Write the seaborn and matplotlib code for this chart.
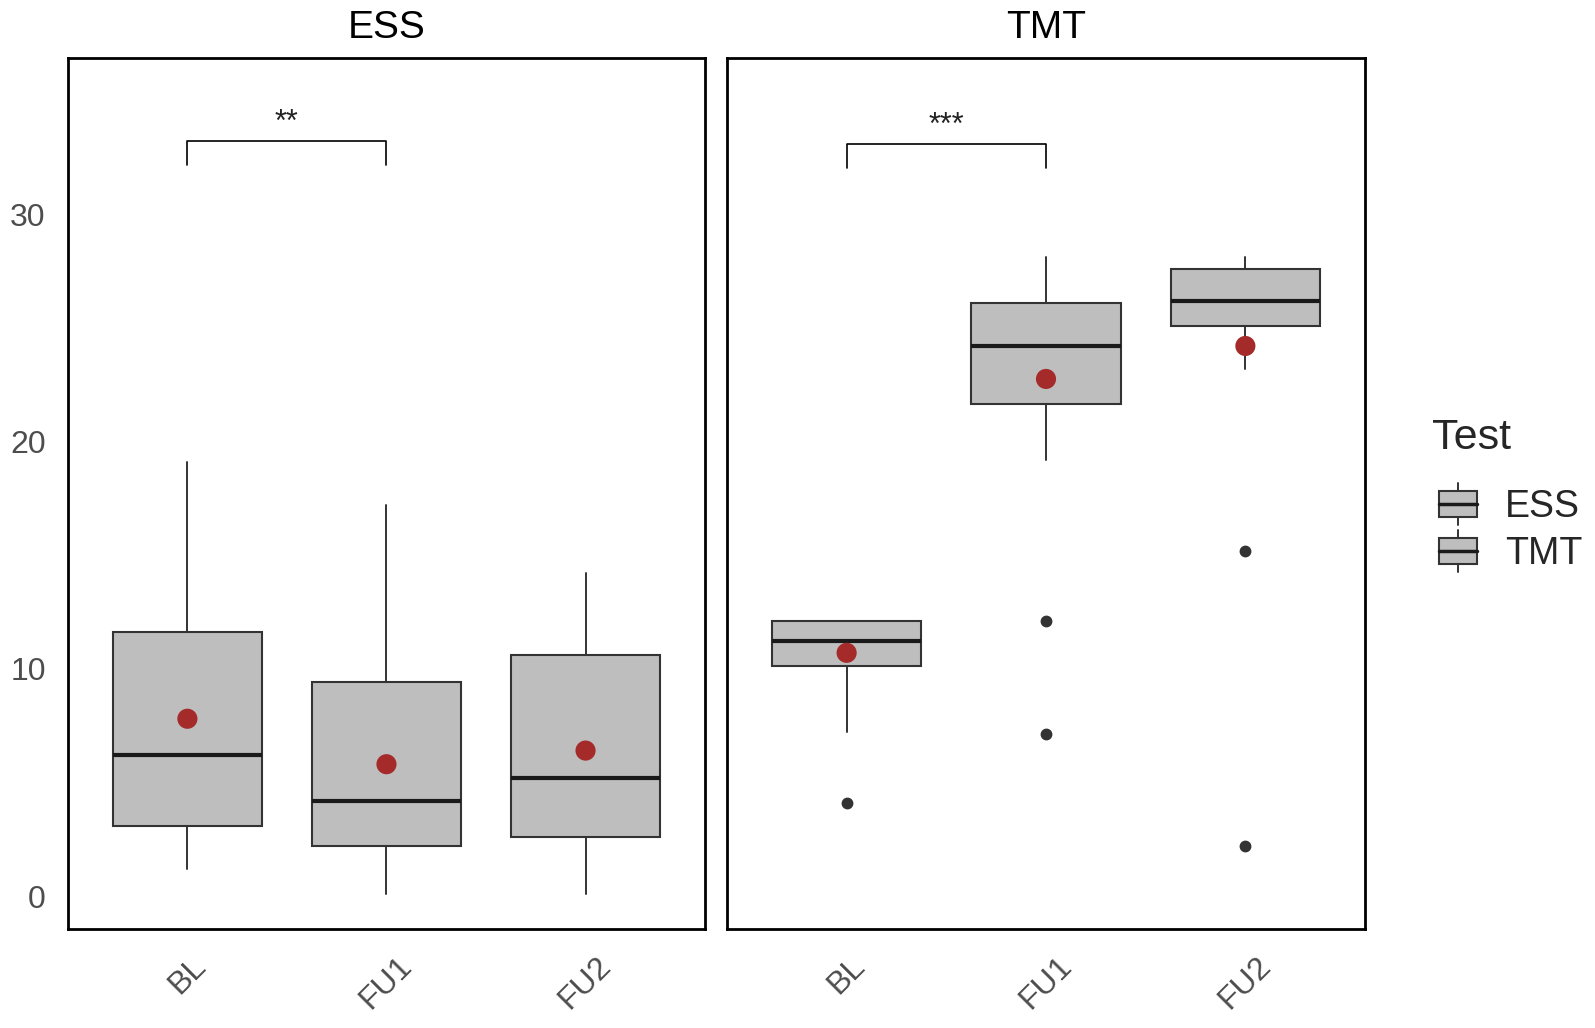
import numpy as np
import matplotlib
matplotlib.use("Agg")
import matplotlib.pyplot as plt
import seaborn as sns
from matplotlib.patches import Rectangle
from matplotlib.lines import Line2D
from matplotlib.legend_handler import HandlerBase

# datos
categories = ["BL", "FU1", "FU2"]
tests = ["ESS", "TMT"]

ess_q1 = [3.1, 2.2, 2.6]
ess_med = [6.2, 4.2, 5.2]
ess_q3 = [11.6, 9.4, 10.6]
ess_low = [1.2, 0.1, 0.1]
ess_high = [19.1, 17.2, 14.2]
ess_mean = [7.8, 5.8, 6.4]
ess_out = [[], [], []]

tmt_q1 = [10.1, 21.65, 25.1]
tmt_med = [11.2, 24.2, 26.2]
tmt_q3 = [12.1, 26.1, 27.6]
tmt_low = [7.2, 19.2, 23.2]
tmt_high = [12.1, 28.1, 28.1]
tmt_mean = [10.7, 22.75, 24.2]
tmt_out = [[4.1], [12.1, 7.15], [15.2, 2.2]]

# comparaciones (indice1, indice2, altura, etiqueta)
ess_sig = (0, 1, 33.2, "**")
tmt_sig = (0, 1, 33.1, "***")

sns.set_theme(style="white")
plt.rcParams["font.family"] = ["Liberation Sans", "DejaVu Sans"]

fig = plt.figure(figsize=(15.95, 10.28), dpi=100)
ax1 = fig.add_axes([0.0426, 0.0963, 0.3994, 0.8473])
ax2 = fig.add_axes([0.4558, 0.0963, 0.4000, 0.8473])

fill = "#BEBEBE"
edge = "#333333"
pos = np.arange(len(categories))


def draw_panel(ax, title, q1, med, q3, low, high, mean, out, sig):
    stats = []
    for i in range(len(categories)):
        stats.append({"q1": q1[i], "med": med[i], "q3": q3[i],
                      "whislo": low[i], "whishi": high[i], "fliers": out[i]})
    ax.bxp(stats, positions=pos, widths=0.75, patch_artist=True, showcaps=False,
           boxprops=dict(facecolor=fill, edgecolor=edge, linewidth=1.5),
           medianprops=dict(color="#1a1a1a", linewidth=3),
           whiskerprops=dict(color=edge, linewidth=1.4),
           flierprops=dict(marker="o", markersize=7.5, markerfacecolor=edge,
                           markeredgecolor=edge))
    sns.scatterplot(x=pos, y=mean, ax=ax, color="#A52A2A", s=210,
                    edgecolor="none", zorder=5)
    # corchete de significancia
    i1, i2, yb, lab = sig
    ax.plot([pos[i1], pos[i1], pos[i2], pos[i2]], [yb - 1.05, yb, yb, yb - 1.05],
            color="black", linewidth=1.2)
    ax.text((pos[i1] + pos[i2]) / 2, yb + 0.45, lab, ha="center", va="baseline",
            fontsize=22, color="#222222")
    ax.set_xlim(-0.6, 2.6)
    ax.set_ylim(-1.45, 36.87)
    ax.set_xticks(pos)
    ax.set_xticklabels(categories, rotation=45, ha="center", va="top")
    ax.set_yticks([0, 10, 20, 30])
    ax.tick_params(axis="both", length=0, labelsize=23, labelcolor="#4D4D4D")
    ax.tick_params(axis="x", pad=16)
    ax.tick_params(axis="y", pad=16)
    ax.set_xlabel("")
    ax.set_ylabel("")
    for sp in ax.spines.values():
        sp.set_visible(True)
        sp.set_color("black")
        sp.set_linewidth(2)
    ax.set_title(title, fontsize=28, pad=14.4, color="black")


draw_panel(ax1, tests[0], ess_q1, ess_med, ess_q3, ess_low, ess_high, ess_mean, ess_out, ess_sig)
draw_panel(ax2, tests[1], tmt_q1, tmt_med, tmt_q3, tmt_low, tmt_high, tmt_mean, tmt_out, tmt_sig)
ax2.set_yticklabels([])


class BoxKey:
    pass


class BoxKeyHandler(HandlerBase):
    def create_artists(self, legend, orig_handle, xdescent, ydescent,
                       width, height, fontsize, trans):
        x0, y0 = -xdescent, -ydescent
        cx = x0 + width / 2
        rect = Rectangle((x0, y0 + 0.19 * height), width, 0.62 * height,
                         facecolor=fill, edgecolor=edge, linewidth=1.5, transform=trans)
        med = Line2D([x0, x0 + width], [y0 + height / 2] * 2, color="#1a1a1a",
                     linewidth=2.5, transform=trans)
        w1 = Line2D([cx, cx], [y0, y0 + 0.19 * height], color=edge, linewidth=1.4,
                    transform=trans)
        w2 = Line2D([cx, cx], [y0 + 0.81 * height, y0 + height], color=edge,
                    linewidth=1.4, transform=trans)
        return [w1, w2, rect, med]


fig.text(1432 / 1595, 1 - 449 / 1028, "Test", fontsize=31, va="baseline", ha="left")
fig.legend(handles=[BoxKey(), BoxKey()], labels=tests,
           handler_map={BoxKey: BoxKeyHandler()},
           loc="upper left", bbox_to_anchor=(1439 / 1595, 1 - 483 / 1028),
           frameon=False, fontsize=27, borderpad=0, borderaxespad=0,
           handlelength=1.0, handleheight=1.35, handletextpad=0.75,
           labelspacing=0.14)

plt.savefig("out.png", dpi=100)
plt.close()
